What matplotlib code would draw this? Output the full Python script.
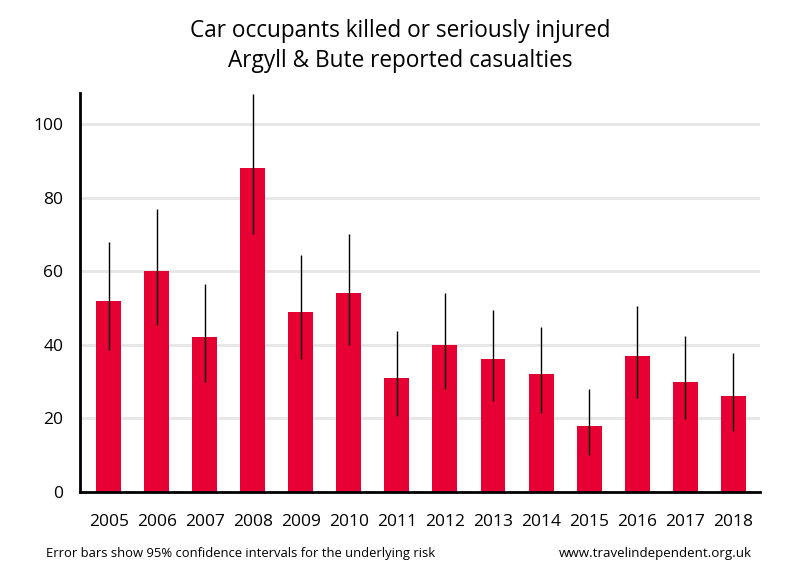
import matplotlib
matplotlib.use("Agg")
import matplotlib.pyplot as plt

plt.rcParams['font.family'] = ['Open Sans', 'DejaVu Sans']

years = ['2005', '2006', '2007', '2008', '2009', '2010', '2011',
         '2012', '2013', '2014', '2015', '2016', '2017', '2018']
casualties = [52, 60, 42, 88, 49, 54, 31, 40, 36, 32, 18, 37, 30, 26]
ci_low = [38.5, 45.5, 30, 70, 36, 40, 20.7, 28.1, 24.8, 21.5, 10.1, 25.6, 19.9, 16.7]
ci_high = [68, 77, 56.5, 108.2, 64.4, 70.1, 43.8, 54.1, 49.5, 44.8, 28, 50.5, 42.4, 37.8]

bar_colour = '#e60033'

fig = plt.figure(figsize=(8, 5.8), dpi=100)
ax = fig.add_axes([0.1, 0.1517, 0.85, 0.688])

x = list(range(len(years)))
ax.bar(x, casualties, width=0.52, color=bar_colour, zorder=2)
ax.vlines(x, ci_low, ci_high, color='black', linewidth=1, zorder=3)

ax.set_xlim(-0.6, len(years) - 0.44)
ax.set_ylim(0, 108.4)
ax.set_xticks(x)
ax.set_xticklabels(years)
ax.set_yticks([0, 20, 40, 60, 80, 100])
ax.yaxis.grid(True, color='#e6e6e6', linewidth=2, zorder=0)
ax.set_axisbelow(True)

for s in ['top', 'right']:
    ax.spines[s].set_visible(False)
ax.spines['left'].set_linewidth(2)
ax.spines['bottom'].set_linewidth(2)

ax.tick_params(axis='x', length=0, pad=16, labelsize=12.5)
ax.tick_params(axis='y', length=0, pad=12, labelsize=12.5)

fig.text(0.5, 0.946, 'Car occupants killed or seriously injured',
         ha='center', va='center', fontsize=16.3)
fig.text(0.5, 0.894, 'Argyll & Bute reported casualties',
         ha='center', va='center', fontsize=16.3)
fig.text(0.058, 0.046, 'Error bars show 95% confidence intervals for the underlying risk',
         ha='left', va='center', fontsize=9.4)
fig.text(0.94, 0.046, 'www.travelindependent.org.uk',
         ha='right', va='center', fontsize=9.6)

fig.savefig('out.png', dpi=100)
